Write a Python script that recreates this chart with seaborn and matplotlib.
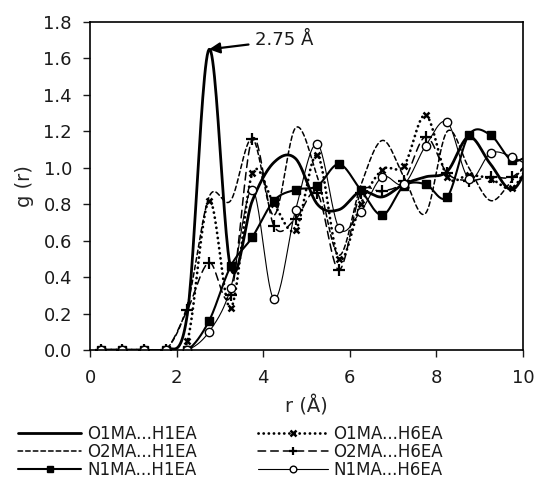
import numpy as np
import pandas as pd
import matplotlib
matplotlib.use("Agg")
import matplotlib.pyplot as plt
from matplotlib.lines import Line2D
from matplotlib.ticker import FormatStrFormatter
import seaborn as sns

# radial distance of each g(r) sample (A)
r = [0.25, 0.75, 1.25, 1.75, 2.25, 2.75, 3.25, 3.75, 4.25, 4.75, 5.25,
     5.75, 6.25, 6.75, 7.25, 7.75, 8.25, 8.75, 9.25, 9.75, 10.25]

o1ma_h1ea = [0, 0, 0, 0, 0.20, 1.65, 0.45, 0.82, 1.03, 1.05, 0.80,
             0.77, 0.87, 0.84, 0.91, 0.95, 0.98, 1.17, 1.02, 0.88, 1.05]
o2ma_h1ea = [0, 0, 0, 0, 0.25, 0.84, 0.82, 1.16, 0.74, 1.22, 0.95,
             0.52, 0.90, 1.15, 0.95, 0.75, 1.20, 1.00, 0.82, 0.93, 1.05]
n1ma_h1ea = [0, 0, 0, 0, 0, 0.16, 0.46, 0.62, 0.82, 0.88, 0.90,
             1.02, 0.88, 0.74, 0.90, 0.91, 0.84, 1.18, 1.18, 1.04, 1.08]
o1ma_h6ea = [0, 0, 0, 0, 0.05, 0.82, 0.23, 0.97, 0.80, 0.66, 1.07,
             0.50, 0.80, 0.99, 1.01, 1.29, 0.95, 0.96, 0.94, 0.89, 1.05]
o2ma_h6ea = [0, 0, 0, 0, 0.22, 0.48, 0.30, 1.16, 0.68, 0.72, 0.86,
             0.44, 0.86, 0.87, 0.93, 1.17, 0.97, 0.93, 0.95, 0.95, 1.05]
n1ma_h6ea = [0, 0, 0, 0, 0, 0.10, 0.34, 0.88, 0.28, 0.77, 1.13,
             0.67, 0.76, 0.95, 0.91, 1.12, 1.25, 0.94, 1.08, 1.06, 1.00]

labels = ["O1MA...H1EA", "O2MA...H1EA", "N1MA...H1EA",
          "O1MA...H6EA", "O2MA...H6EA", "N1MA...H6EA"]

sns.set_style("ticks")
plt.rcParams['font.family'] = ['DejaVu Sans']
plt.rcParams['text.color'] = '#1a1a1a'


def smooth(xs, ys, n=24):
    # excel style smoothed line (catmull-rom through the samples)
    xs = np.asarray(xs, float)
    ys = np.asarray(ys, float)
    p = np.concatenate([[ys[0]], ys, [ys[-1]]])
    t = np.linspace(0, 1, n, endpoint=False)
    h00 = 2*t**3 - 3*t**2 + 1
    h10 = t**3 - 2*t**2 + t
    h01 = -2*t**3 + 3*t**2
    h11 = t**3 - t**2
    sx, sy = [], []
    for i in range(len(ys) - 1):
        m1 = (p[i+2] - p[i]) / 2
        m2 = (p[i+3] - p[i+1]) / 2
        sy.append(h00*p[i+1] + h10*m1 + h01*p[i+2] + h11*m2)
        sx.append(xs[i] + t*(xs[i+1] - xs[i]))
    sx.append([xs[-1]])
    sy.append([ys[-1]])
    return pd.DataFrame({"r": np.concatenate(sx), "g": np.concatenate(sy)})


styles = [
    dict(lw=2.0, ls='-', marker=None),
    dict(lw=1.1, ls=(0, (3, 2)), marker=None),
    dict(lw=1.5, ls='-', marker='s', ms=5.5, mfc='black', mew=1.0),
    dict(lw=2.0, ls=(0, (0.05, 1.8)), marker='x', ms=5, mfc='black', mew=1.8),
    dict(lw=1.1, ls=(0, (5, 3.3)), marker='+', ms=8, mfc='black', mew=1.6),
    dict(lw=0.8, ls='-', marker='o', ms=6, mfc='white', mew=1.0),
]
series = [o1ma_h1ea, o2ma_h1ea, n1ma_h1ea, o1ma_h6ea, o2ma_h6ea, n1ma_h6ea]

fig = plt.figure(figsize=(5.37, 4.92), dpi=100)
ax = fig.add_axes([0.1676, 0.2886, 0.8063, 0.6667])

handles = []
for vals, st, lab in zip(series, styles, labels):
    df = smooth(r, vals)
    sns.lineplot(data=df, x="r", y="g", ax=ax, color='black', lw=st['lw'],
                 linestyle=st['ls'], sort=False, estimator=None,
                 dash_capstyle='round')
    if st['marker']:
        ax.plot(r, vals, linestyle='none', marker=st['marker'], ms=st['ms'],
                mfc=st['mfc'], mec='black', mew=st['mew'], color='black')
    handles.append(Line2D([], [], color='black', lw=st['lw'], linestyle=st['ls'],
                          dash_capstyle='round',
                          marker=st['marker'], ms=st.get('ms', 0) * 0.8,
                          mfc=st.get('mfc', 'black'), mec='black',
                          mew=st.get('mew', 1)))

ax.set_xlim(0, 10)
ax.set_ylim(0, 1.8)
ax.set_xticks(np.arange(0, 11, 2))
ax.set_yticks(np.arange(0, 1.81, 0.2))
ax.yaxis.set_major_formatter(FormatStrFormatter('%.1f'))
ax.tick_params(direction='out', length=5, width=1, labelsize=13, colors='#1a1a1a')
ax.tick_params(axis='y', pad=8)
ax.tick_params(axis='x', pad=9)
for s in ax.spines.values():
    s.set_visible(True)
    s.set_linewidth(1.2)
    s.set_color('black')
ax.set_xlabel("r (Å)", fontsize=14, labelpad=6)
ax.set_ylabel("g (r)", fontsize=14, labelpad=7)

ax.annotate("2.75 Å", xy=(2.75, 1.65), xytext=(3.8, 1.70),
            textcoords='data', fontsize=13, ha='left', va='center',
            arrowprops=dict(arrowstyle='-|>', color='black', lw=1.6,
                            mutation_scale=16, shrinkA=2, shrinkB=0))

# two legend columns pinned separately
leg_kw = dict(loc='upper left', bbox_transform=fig.transFigure, frameon=False,
              fontsize=12, handletextpad=0.35, labelspacing=0.0, borderpad=0,
              borderaxespad=0, numpoints=1)
leg1 = fig.legend(handles[:3], labels[:3], bbox_to_anchor=(0.0335, 0.136),
                  handlelength=3.8, **leg_kw)
leg2 = fig.legend(handles[3:], labels[3:], bbox_to_anchor=(0.480, 0.136),
                  handlelength=4.2, **leg_kw)

fig.savefig("out.png", dpi=100)
